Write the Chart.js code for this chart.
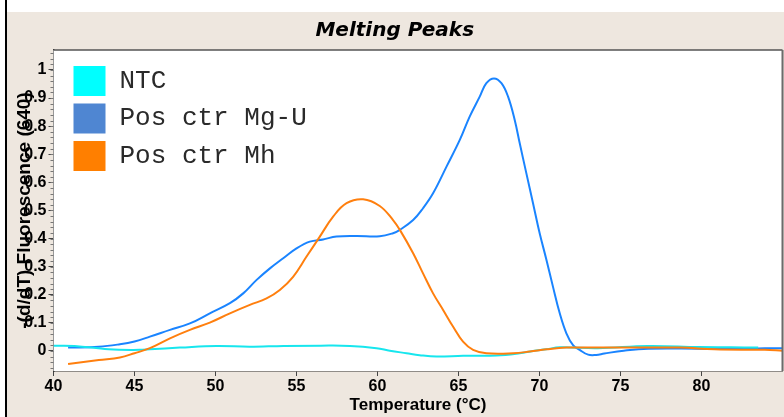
<!DOCTYPE html>
<html>
<head>
<meta charset="utf-8">
<script src="https://cdn.jsdelivr.net/npm/chart.js@4.4.1/dist/chart.umd.min.js"></script>
<style>
  html, body { margin: 0; padding: 0; background: #fff; }
  body { width: 784px; height: 417px; position: relative; overflow: hidden; }
  #edge { position: absolute; left: 5px; top: 0; width: 2px; height: 417px; background: #000; }
  #panel { position: absolute; left: 7px; top: 12px; width: 777px; height: 405px; background: #eee7df; }
</style>
</head>
<body>
<div id="edge"></div>
<div id="panel"><canvas id="myChart" width="777" height="405"></canvas></div>
<script>
// series names and colours
const seriesNames = ['NTC', 'Pos ctr Mg-U', 'Pos ctr Mh']
const lineColors = ['#17e6ee', '#1a84ff', '#ff7f0e']
const legendColors = ['#00ffff', '#4f86d2', '#ff7f00']

// NTC
const ntcTemp = [40.0, 41.3, 43.4, 45.3, 45.95, 47.8, 50.07, 52.1, 54.2, 56.5, 58.3, 59.94, 60.76, 61.79, 62.6, 63.64, 65.28, 67.34, 68.78, 69.6, 70.43, 71.25, 73.6, 76.7, 79.8, 81.8, 83.5]
const ntcValues = [0.019, 0.018, 0.006, 0.004, 0.006, 0.012, 0.018, 0.015, 0.018, 0.019, 0.018, 0.010, 0.001, -0.008, -0.015, -0.020, -0.017, -0.016, -0.008, 0.000, 0.006, 0.013, 0.010, 0.018, 0.014, 0.013, 0.012]

// Pos ctr Mg-U
const mguTemp = [40.9, 42.8, 44.1, 45.0, 45.95, 47.19, 48.42, 49.65, 50.89, 51.71, 52.54, 53.36, 54.18, 55.0, 55.82, 56.64, 57.47, 58.7, 60.14, 60.96, 61.38, 62.2, 62.81, 63.43, 64.26, 65.08, 65.69, 66.31, 66.72, 67.19, 67.65, 68.06, 68.47, 68.78, 69.19, 69.6, 70.01, 70.43, 70.83, 71.25, 71.66, 72.07, 72.48, 73.0, 73.5, 74.0, 75.2, 76.7, 79.8, 81.8, 83.9, 85.0]
const mguValues = [0.012, 0.015, 0.024, 0.034, 0.051, 0.075, 0.098, 0.134, 0.170, 0.205, 0.253, 0.294, 0.330, 0.365, 0.389, 0.397, 0.407, 0.409, 0.408, 0.419, 0.431, 0.466, 0.508, 0.561, 0.656, 0.751, 0.834, 0.905, 0.953, 0.970, 0.953, 0.905, 0.822, 0.739, 0.632, 0.526, 0.419, 0.324, 0.229, 0.134, 0.063, 0.021, 0.004, -0.013, -0.014, -0.009, 0.001, 0.008, 0.008, 0.007, 0.010, 0.010]

// Pos ctr Mh
const mhTemp = [40.9, 42.8, 44.1, 45.0, 45.95, 47.19, 48.42, 49.65, 50.89, 52.12, 53.15, 53.97, 54.79, 55.62, 56.44, 57.26, 58.09, 59.11, 60.14, 60.96, 61.38, 62.2, 62.81, 63.43, 64.05, 64.66, 65.28, 65.9, 66.72, 68.37, 69.4, 70.43, 71.66, 73.6, 75.7, 78.7, 80.8, 83.9, 85.0]
const mhValues = [-0.046, -0.032, -0.023, -0.008, 0.010, 0.045, 0.075, 0.101, 0.134, 0.164, 0.187, 0.217, 0.264, 0.336, 0.407, 0.478, 0.526, 0.540, 0.516, 0.466, 0.431, 0.348, 0.276, 0.205, 0.146, 0.087, 0.033, 0.004, -0.008, -0.008, -0.002, 0.006, 0.012, 0.012, 0.012, 0.012, 0.006, 0.004, 0.001]

// axis ticks
const xTicks = [40, 45, 50, 55, 60, 65, 70, 75, 80]
const yTicks = [0, 0.1, 0.2, 0.3, 0.4, 0.5, 0.6, 0.7, 0.8, 0.9, 1]

function pairs(xs, ys) {
  let out = []
  for (let i = 0; i < xs.length; i++) out.push({x: xs[i], y: ys[i]})
  return out
}

// minor y ticks every 0.02
let yMinor = []
for (let k = -3; k <= 53; k++) yMinor.push(Math.round(k * 2) / 100)

const plotFrame = {
  id: 'plotFrame',
  beforeDatasetsDraw(chart) {
    const a = chart.chartArea, c = chart.ctx
    c.save()
    c.fillStyle = '#fff'
    c.fillRect(a.left, a.top, a.right - a.left, a.bottom - a.top)
    c.restore()
  },
  afterDraw(chart) {
    const a = chart.chartArea, c = chart.ctx
    const y = chart.scales.y
    c.save()
    // top and right frame
    c.strokeStyle = '#555'
    c.lineWidth = 1.5
    c.beginPath()
    c.moveTo(a.left, a.top)
    c.lineTo(a.right, a.top)
    c.stroke()
    c.strokeStyle = '#6b6b6b'
    c.lineWidth = 2
    c.beginPath()
    c.moveTo(a.right, a.top)
    c.lineTo(a.right, a.bottom)
    c.stroke()
    // minor y ticks
    c.strokeStyle = '#777'
    c.lineWidth = 1
    yMinor.forEach(v => {
      const p = Math.round(y.getPixelForValue(v)) + 0.5
      c.beginPath()
      c.moveTo(a.left - 3, p)
      c.lineTo(a.left, p)
      c.stroke()
    })
    // legend inside the plot
    const bx = a.left + 20, by = a.top + 16
    c.font = '26px "Liberation Mono"'
    c.textBaseline = 'middle'
    c.textAlign = 'left'
    for (let i = 0; i < seriesNames.length; i++) {
      const top = by + i * 37.5
      c.fillStyle = legendColors[i]
      c.fillRect(bx, top, 32, 30)
      c.fillStyle = '#2a2a2a'
      c.fillText(seriesNames[i], bx + 46, top + 15)
    }
    c.restore()
  }
}

Chart.defaults.font.family = '"Liberation Sans", Arial, sans-serif'
Chart.defaults.color = '#000'

var ctx = document.getElementById('myChart').getContext('2d')
var myChart = new Chart(ctx, {
  type: 'line',
  data: {
    datasets: [
      { label: seriesNames[0], data: pairs(ntcTemp, ntcValues), borderColor: lineColors[0], order: 1 },
      { label: seriesNames[1], data: pairs(mguTemp, mguValues), borderColor: lineColors[1], order: 2 },
      { label: seriesNames[2], data: pairs(mhTemp, mhValues), borderColor: lineColors[2], order: 0 }
    ]
  },
  options: {
    responsive: false,
    devicePixelRatio: 1,
    animation: false,
    events: [],
    datasets: {
      line: {
        fill: false,
        borderWidth: 2,
        pointRadius: 0,
        tension: 0.4
      }
    },
    layout: { padding: { right: 1.5, left: 0, bottom: 0 } },
    plugins: {
      legend: { display: false },
      tooltip: { enabled: false },
      title: {
        display: true,
        text: 'Melting Peaks',
        color: '#000',
        font: { family: '"DejaVu Sans"', size: 20, weight: 'bold', style: 'italic', lineHeight: 1.2 },
        padding: { top: 7, bottom: 7 }
      }
    },
    scales: {
      x: {
        type: 'linear',
        min: 40,
        max: 85,
        afterBuildTicks: (s) => { s.ticks = xTicks.map(v => ({value: v})) },
        afterFit: (s) => { s.height = 46 },
        grid: { drawOnChartArea: false, tickLength: 5, tickColor: '#444' },
        border: { color: '#333', width: 1.5 },
        ticks: { font: { size: 16, weight: 'bold' }, padding: 1, maxRotation: 0 },
        title: {
          display: true,
          text: 'Temperature (°C)',
          font: { size: 17, weight: 'bold', lineHeight: 1.2 },
          padding: 1
        }
      },
      y: {
        type: 'linear',
        min: -0.0712,
        max: 1.071,
        afterBuildTicks: (s) => { s.ticks = yTicks.map(v => ({value: v})) },
        afterFit: (s) => { s.width = 46.5 },
        grid: { drawOnChartArea: false, tickLength: 5, tickColor: '#444' },
        border: { color: '#333', width: 1.5 },
        ticks: {
          font: { size: 16, weight: 'bold' },
          padding: 2,
          callback: (v) => String(Math.round(v * 10) / 10)
        },
        title: {
          display: true,
          text: '-(d/dT) Fluorescence (640)',
          font: { size: 19, weight: 'bold', lineHeight: 1.2 },
          padding: 6
        }
      }
    }
  },
  plugins: [plotFrame]
})
</script>
</body>
</html>
